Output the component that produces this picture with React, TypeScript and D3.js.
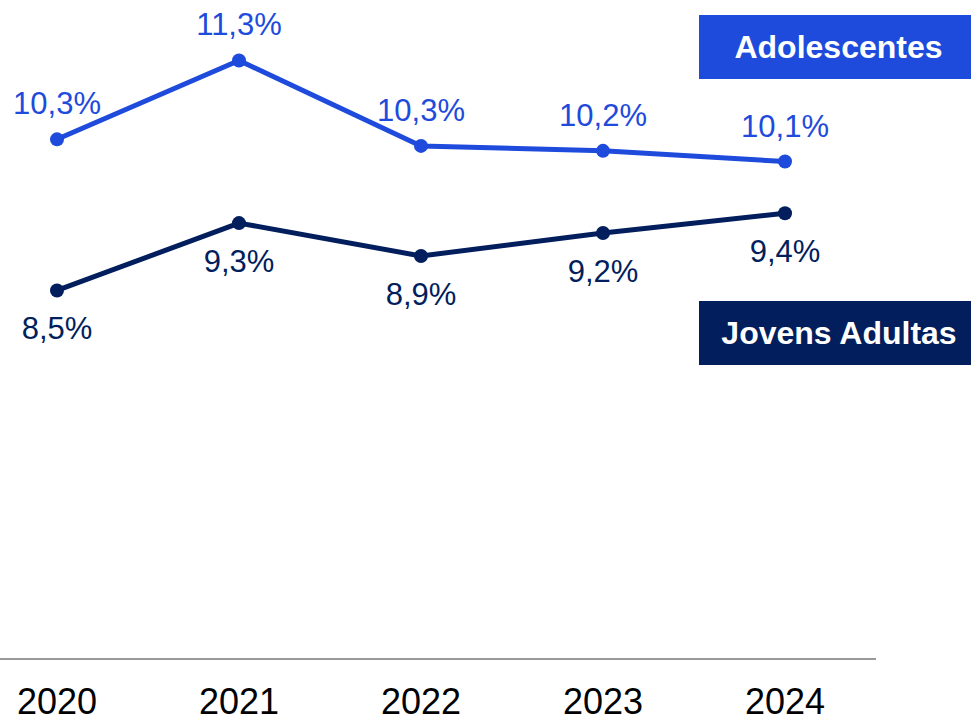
import React from "react";
import * as d3 from "d3";

const years = ["2020", "2021", "2022", "2023", "2024"];
const adolescentes = [10.34, 11.3, 10.26, 10.2, 10.07];
const jovensAdultas = [8.5, 9.32, 8.92, 9.2, 9.44];
const seriesNames = ["Adolescentes", "Jovens Adultas"];

const W = 971;
const H = 719;
const BLUE = "#1E4BDC";
const NAVY = "#021E5C";
const FONT = "'Liberation Sans', Arial, Helvetica, sans-serif";

export default function App() {
  const x = d3.scalePoint<string>().domain(years).range([57, 785]).padding(0);
  const y = d3.scaleLinear().domain([4, 12]).range([660, 3]);
  const fmt = (v: number) => d3.format(".1f")(v).replace(".", ",") + "%";

  const line = d3
    .line<number>()
    .x((_, i) => x(years[i]) as number)
    .y((d) => y(d));

  const series = [
    { name: seriesNames[0], values: adolescentes, color: BLUE, labelDy: -25, boxY: 15, tx: 838.5 },
    { name: seriesNames[1], values: jovensAdultas, color: NAVY, labelDy: 49, boxY: 301, tx: 839 },
  ];

  return (
    <svg
      width={W}
      height={H}
      style={{ position: "absolute", left: 0, top: 0, background: "#fff" }}
      fontFamily={FONT}
    >
      <line x1={0} x2={876} y1={y(4) - 1} y2={y(4) - 1} stroke="#999" strokeWidth={2} />
      {years.map((yr) => (
        <text
          key={yr}
          x={x(yr)}
          y={714}
          textAnchor="middle"
          fontSize={36}
          fill="#000"
        >
          {yr}
        </text>
      ))}
      {series.map((s) => (
        <g key={s.name}>
          <path d={line(s.values) || ""} fill="none" stroke={s.color} strokeWidth={5} strokeLinejoin="round" />
          {s.values.map((v, i) => (
            <g key={i}>
              <circle cx={x(years[i])} cy={y(v)} r={7} fill={s.color} />
              <text
                x={x(years[i])}
                y={y(v) + s.labelDy}
                textAnchor="middle"
                fontSize={31}
                fill={s.color}
              >
                {fmt(v)}
              </text>
            </g>
          ))}
          <rect x={699} y={s.boxY} width={272} height={64} fill={s.color} />
          <text
            x={s.tx}
            y={s.boxY + 43}
            textAnchor="middle"
            fontSize={32}
            fontWeight="bold"
            fill="#fff"
          >
            {s.name}
          </text>
        </g>
      ))}
    </svg>
  );
}
